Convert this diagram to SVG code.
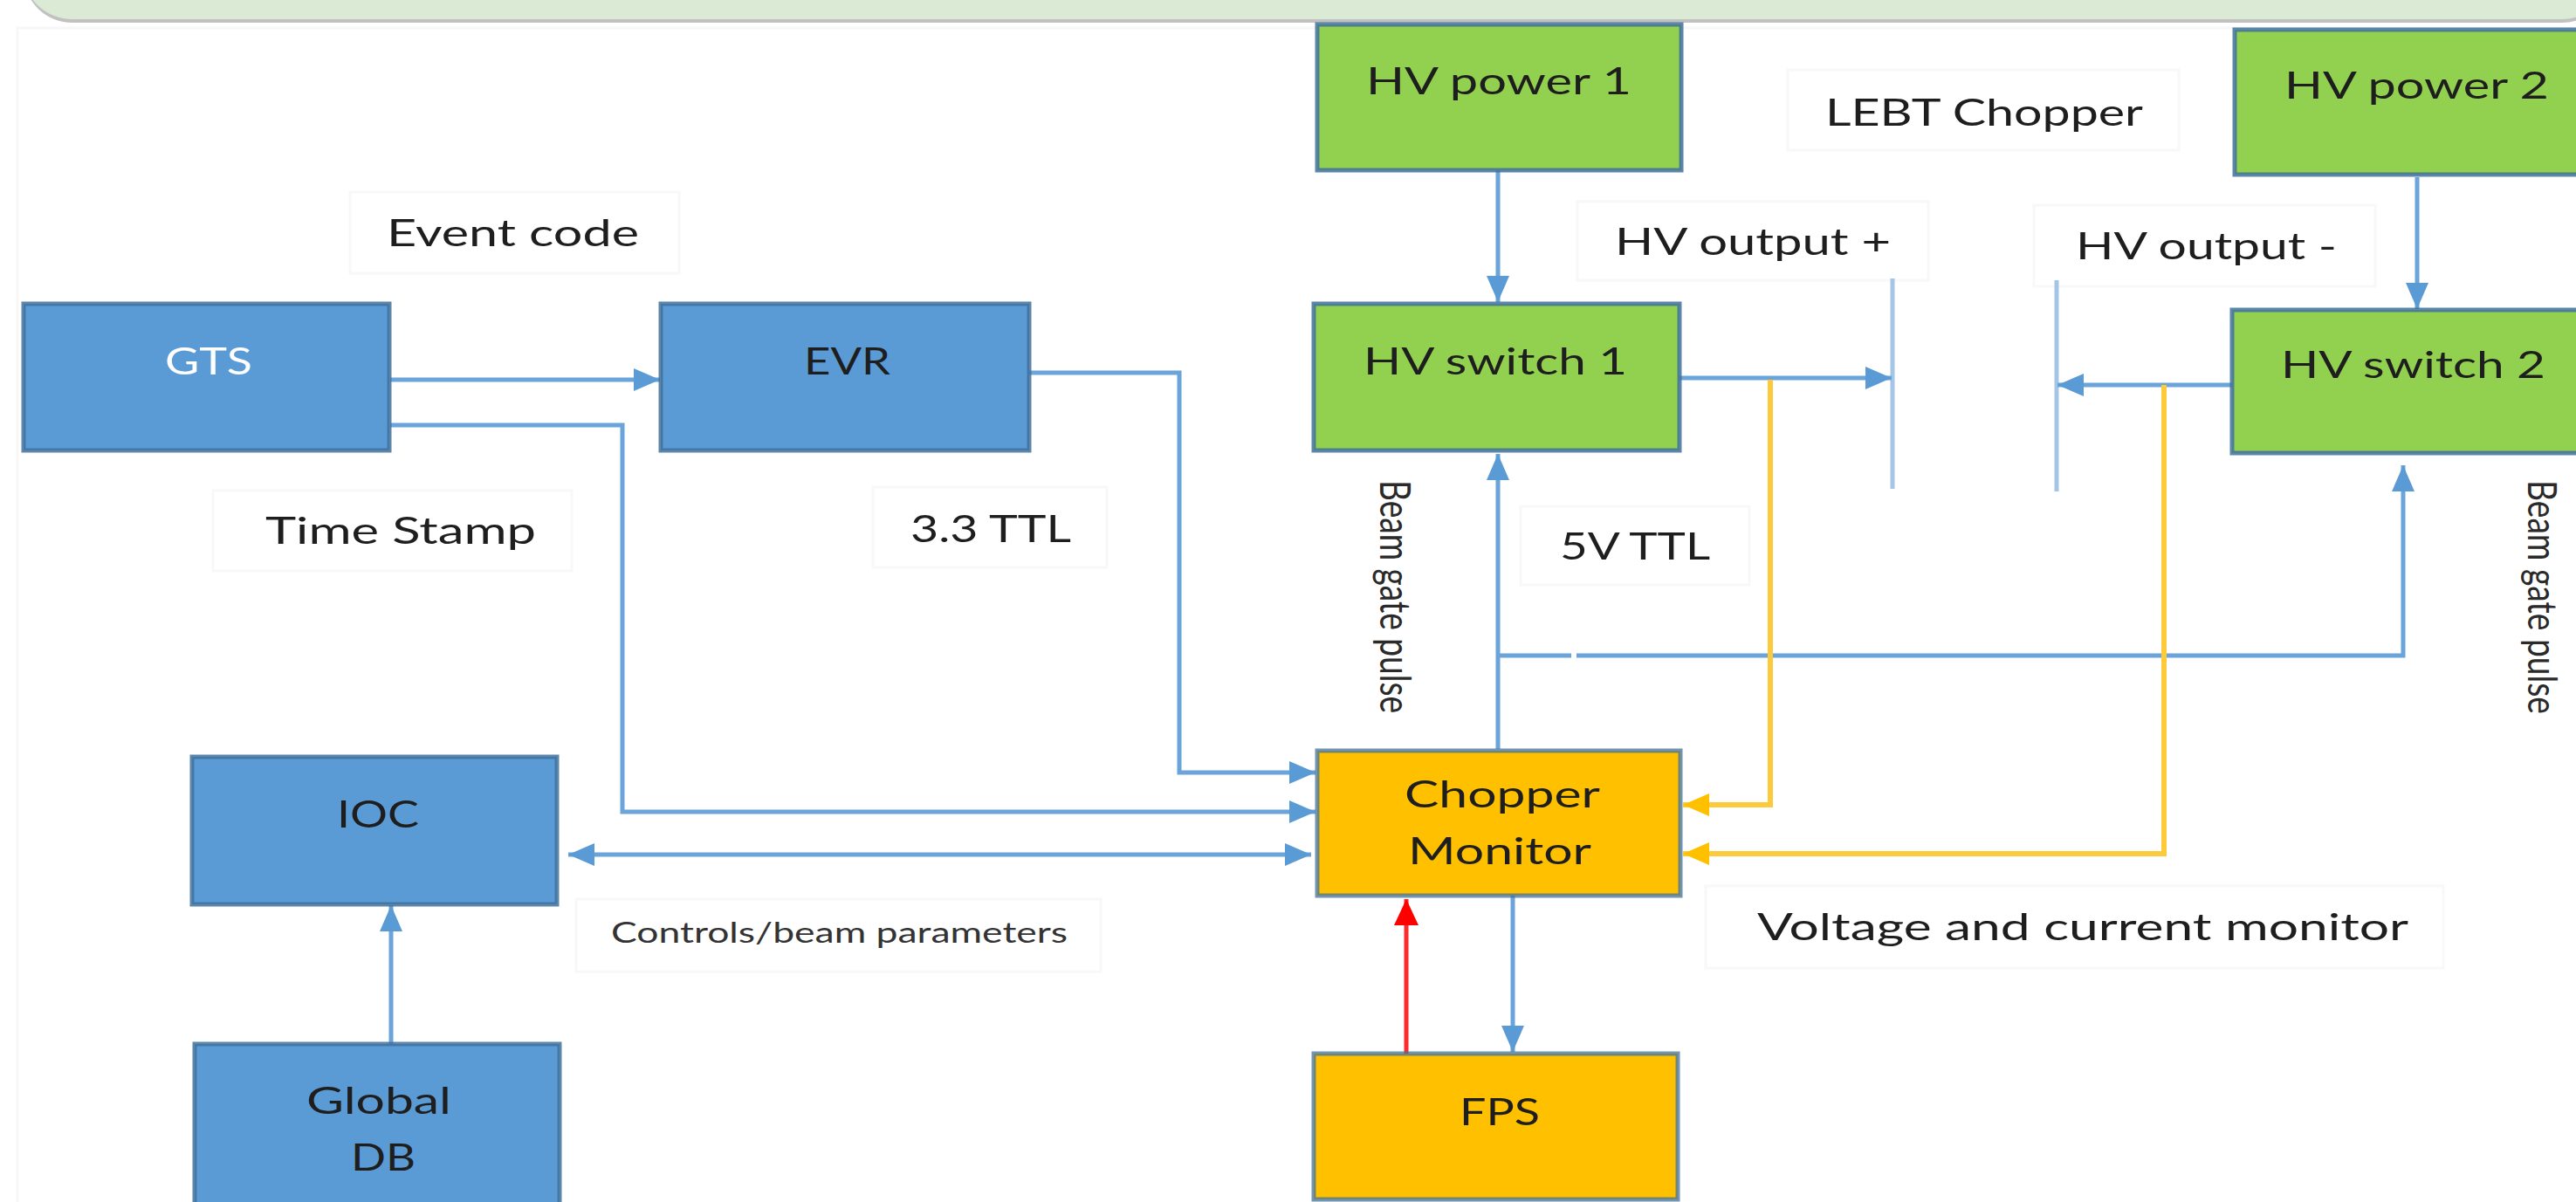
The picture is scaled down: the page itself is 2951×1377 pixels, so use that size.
<svg xmlns="http://www.w3.org/2000/svg" width="2951" height="1377" viewBox="0 0 2951 1377">
  <defs>
    <style>
      .t { font-family: Lato, "Liberation Sans", sans-serif; font-size: 43px; fill: #1e1e1e; }
      .ts { font-family: Lato, "Liberation Sans", sans-serif; font-size: 32px; fill: #333; }
      .tr { font-family: Lato, "Liberation Sans", sans-serif; font-size: 48px; fill: #2a2a2a; }
      .blue { fill: #5b9bd5; stroke: #41719c; stroke-width: 5; stroke-opacity: 0.85; }
      .green { fill: #92d050; stroke: #41719c; stroke-width: 5; stroke-opacity: 0.85; }
      .yellow { fill: #ffc000; stroke: #41719c; stroke-width: 5; stroke-opacity: 0.75; }
      .lbl { fill: #ffffff; stroke: #f8f8f8; stroke-width: 3; }
      .cb { fill: none; stroke: #6aa4da; stroke-width: 5; marker-end: url(#ab); }
      .cy { fill: none; stroke: #fdca3c; stroke-width: 6; marker-end: url(#ay); }
    </style>
    <marker id="ab" markerUnits="userSpaceOnUse" viewBox="0 0 30 28" markerWidth="30" markerHeight="28" refX="30" refY="14" orient="auto-start-reverse">
      <path d="M0,1 L30,14 L0,27 z" fill="#5b9bd5"/>
    </marker>
    <marker id="ay" markerUnits="userSpaceOnUse" viewBox="0 0 30 28" markerWidth="30" markerHeight="28" refX="30" refY="14" orient="auto">
      <path d="M0,1 L30,14 L0,27 z" fill="#ffc000"/>
    </marker>
    <marker id="ar" markerUnits="userSpaceOnUse" viewBox="0 0 30 30" markerWidth="30" markerHeight="30" refX="30" refY="15" orient="auto">
      <path d="M0,1 L30,15 L0,29 z" fill="#ff0000"/>
    </marker>
  </defs>

  <rect x="0" y="0" width="2951" height="1377" fill="#ffffff"/>
  <rect x="20" y="32" width="2950" height="1370" fill="none" stroke="#f7f7f7" stroke-width="3"/>

  <g id="banner">
    <rect x="28" y="-80" width="2962" height="106" rx="55" fill="#a6a6a6" opacity="0.7"/>
    <rect x="28" y="-80" width="2962" height="102" rx="55" fill="#dbead5"/>
  </g>

  <g id="labels">
    <rect class="lbl" x="401" y="220" width="377" height="93"/>
    <text class="t" x="443" y="282" textLength="289" lengthAdjust="spacingAndGlyphs">Event code</text>
    <rect class="lbl" x="244" y="562" width="411" height="92"/>
    <text class="t" x="304" y="623" textLength="310" lengthAdjust="spacingAndGlyphs">Time Stamp</text>
    <rect class="lbl" x="1000" y="558" width="268" height="92"/>
    <text class="t" x="1043" y="621" textLength="184" lengthAdjust="spacingAndGlyphs">3.3 TTL</text>
    <rect class="lbl" x="660" y="1030" width="601" height="83"/>
    <text class="ts" x="700" y="1080" textLength="523" lengthAdjust="spacingAndGlyphs">Controls/beam parameters</text>
    <rect class="lbl" x="2048" y="80" width="448" height="92"/>
    <text class="t" x="2091" y="144" textLength="364" lengthAdjust="spacingAndGlyphs">LEBT Chopper</text>
    <rect class="lbl" x="1807" y="231" width="402" height="90"/>
    <text class="t" x="1850" y="292" textLength="316" lengthAdjust="spacingAndGlyphs">HV output +</text>
    <rect class="lbl" x="2330" y="235" width="391" height="93"/>
    <text class="t" x="2378" y="297" textLength="299" lengthAdjust="spacingAndGlyphs">HV output -</text>
    <rect class="lbl" x="1742" y="580" width="262" height="90"/>
    <text class="t" x="1787" y="641" textLength="172" lengthAdjust="spacingAndGlyphs">5V TTL</text>
    <rect class="lbl" x="1954" y="1015" width="845" height="94"/>
    <text class="t" x="2013" y="1077" textLength="746" lengthAdjust="spacingAndGlyphs">Voltage and current monitor</text>
    <text class="tr" transform="translate(1581,550) rotate(90)" x="0" y="0" textLength="267" lengthAdjust="spacingAndGlyphs">Beam gate pulse</text>
    <text class="tr" transform="translate(2896,550) rotate(90)" x="0" y="0" textLength="268" lengthAdjust="spacingAndGlyphs" style="font-size:46px">Beam gate pulse</text>
  </g>

  <g id="connectors">
    <line x1="2168" y1="319" x2="2168" y2="560" stroke="#a4c5e6" stroke-width="5"/>
    <line x1="2356" y1="321" x2="2356" y2="563" stroke="#a4c5e6" stroke-width="5"/>
    <path class="cb" d="M447,435 H756"/>
    <path class="cb" d="M447,487 H713 V930 H1507"/>
    <path class="cb" d="M1179,427 H1351 V885 H1507"/>
    <path class="cb" d="M651,979 H1502" marker-start="url(#ab)"/>
    <path class="cb" d="M448,1196 V1037"/>
    <path class="cb" d="M1716,195 V346"/>
    <path class="cb" d="M2769,203 V354"/>
    <path class="cb" d="M1924,433 H2167"/>
    <path class="cb" d="M2557,441 H2357"/>
    <path class="cb" d="M1716,858 V520"/>
    <path class="cb" d="M1716,751 H1800 M1806,751 H2753 V533"/>
    <path class="cy" d="M2028,435 V922 H1928"/>
    <path class="cy" d="M2479,441 V978 H1928"/>
    <path d="M1611,1207 V1030" fill="none" stroke="#ff2a2a" stroke-width="5" marker-end="url(#ar)"/>
    <path class="cb" d="M1733,1026 V1205"/>
  </g>

  <g id="GTS">
    <rect class="blue" x="27" y="348" width="419" height="168"/>
    <text class="t" x="189" y="429" textLength="100" lengthAdjust="spacingAndGlyphs" style="fill:#ffffff">GTS</text>
  </g>
  <g id="EVR">
    <rect class="blue" x="757" y="348" width="422" height="168"/>
    <text class="t" x="921" y="429" textLength="99" lengthAdjust="spacingAndGlyphs">EVR</text>
  </g>
  <g id="IOC">
    <rect class="blue" x="220" y="867" width="418" height="169"/>
    <text class="t" x="386" y="948" textLength="94" lengthAdjust="spacingAndGlyphs">IOC</text>
  </g>
  <g id="GlobalDB">
    <rect class="blue" x="223" y="1196" width="418" height="200"/>
    <text class="t" x="351" y="1276" textLength="166" lengthAdjust="spacingAndGlyphs">Global</text>
    <text class="t" x="402" y="1341" textLength="74" lengthAdjust="spacingAndGlyphs">DB</text>
  </g>
  <g id="HVpower1">
    <rect class="green" x="1509" y="28" width="417" height="167"/>
    <text class="t" x="1565" y="108" textLength="304" lengthAdjust="spacingAndGlyphs">HV power 1</text>
  </g>
  <g id="HVpower2">
    <rect class="green" x="2560" y="34" width="420" height="166"/>
    <text class="t" x="2617" y="113" textLength="303" lengthAdjust="spacingAndGlyphs">HV power 2</text>
  </g>
  <g id="HVswitch1">
    <rect class="green" x="1505" y="348" width="419" height="168"/>
    <text class="t" x="1562" y="429" textLength="302" lengthAdjust="spacingAndGlyphs">HV switch 1</text>
  </g>
  <g id="HVswitch2">
    <rect class="green" x="2557" y="355" width="420" height="164"/>
    <text class="t" x="2613" y="433" textLength="303" lengthAdjust="spacingAndGlyphs">HV switch 2</text>
  </g>
  <g id="ChopperMonitor">
    <rect class="yellow" x="1509" y="860" width="416" height="166"/>
    <text class="t" x="1609" y="925" textLength="224" lengthAdjust="spacingAndGlyphs">Chopper</text>
    <text class="t" x="1613" y="990" textLength="210" lengthAdjust="spacingAndGlyphs">Monitor</text>
  </g>
  <g id="FPS">
    <rect class="yellow" x="1505" y="1207" width="417" height="167"/>
    <text class="t" x="1672" y="1289" textLength="92" lengthAdjust="spacingAndGlyphs">FPS</text>
  </g>
</svg>
